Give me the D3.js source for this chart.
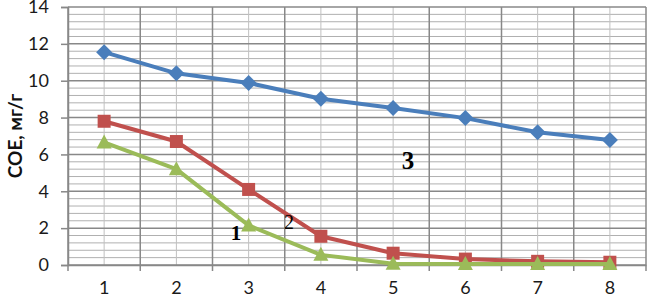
<!DOCTYPE html>
<html><head><meta charset="utf-8">
<script src="https://cdn.jsdelivr.net/npm/d3@7"></script>
<style>body{margin:0;background:#fff}svg{display:block}</style>
</head><body>
<script>
const categories = [1,2,3,4,5,6,7,8];
const series3 = [11.55, 10.4, 9.88, 9.02, 8.52, 7.97, 7.2, 6.78];
const series2 = [7.8, 6.7, 4.1, 1.56, 0.64, 0.32, 0.2, 0.15];
const series1 = [6.65, 5.2, 2.15, 0.55, 0.07, 0.05, 0.05, 0.05];
const yTicks = [0,2,4,6,8,10,12,14];

const W=647,H=299, L=68, R=646, T=7, B=265;
const svg=d3.select("body").append("svg").attr("width",W).attr("height",H);
const x=d3.scaleBand().domain(categories).range([L,R]);
const y=d3.scaleLinear().domain([0,14]).range([B,T]);
const cx=d=>x(d)+x.bandwidth()/2;

const minor=d3.range(0,14.01,0.4).filter(v=>Math.abs(v/2-Math.round(v/2))>0.01);
svg.append("g").selectAll("line").data(minor).join("line")
 .attr("x1",L).attr("x2",R).attr("y1",d=>y(d)).attr("y2",d=>y(d))
 .attr("stroke","#b0b0b0").attr("stroke-width",1);
svg.append("g").selectAll("line").data(categories).join("line")
 .attr("x1",cx).attr("x2",cx).attr("y1",T).attr("y2",B)
 .attr("stroke","#c0c0c0").attr("stroke-width",1);
svg.append("g").selectAll("line").data(yTicks).join("line")
 .attr("x1",L).attr("x2",R).attr("y1",d=>y(d)).attr("y2",d=>y(d))
 .attr("stroke","#888").attr("stroke-width",1.5);
const bounds=categories.map(c=>x(c)).concat([R]);
svg.append("g").selectAll("line").data(bounds).join("line")
 .attr("x1",d=>d).attr("x2",d=>d).attr("y1",T).attr("y2",B+6)
 .attr("stroke","#888").attr("stroke-width",1.5);

const tf="Lato, 'Open Sans', sans-serif";
const ya=svg.append("g").attr("transform",`translate(${L},0)`)
 .call(d3.axisLeft(y).tickValues(yTicks).tickSize(7).tickPadding(12));
ya.select(".domain").attr("stroke","#888").attr("stroke-width",1.5);
ya.selectAll(".tick line").attr("stroke","#888").attr("stroke-width",1.5);
ya.selectAll("text").attr("font-family",tf).attr("font-size",18).attr("fill","#1a1a1a");
const xa=svg.append("g").attr("transform",`translate(0,${B})`)
 .call(d3.axisBottom(x).tickSize(0).tickPadding(16));
xa.select(".domain").attr("stroke","#888").attr("stroke-width",1.5);
xa.selectAll("text").attr("font-family",tf).attr("font-size",18).attr("fill","#1a1a1a");

svg.append("text").attr("transform","translate(22,136) rotate(-90)")
 .attr("text-anchor","middle").attr("font-family",tf)
 .attr("font-weight","bold").attr("font-size",19).attr("fill","#111").text("COE, мг/г");

const shapes={
 diamond:"M0,-8L8,0L0,8L-8,0Z",
 square:"M-6.5,-6.5H6.5V6.5H-6.5Z",
 triangle:"M0,-8L7.5,6L-7.5,6Z"
};
const line=d3.line().x((d,i)=>cx(categories[i])).y(d=>y(d));
function drawSeries(vals,color,shape){
 svg.append("path").datum(vals).attr("d",line).attr("fill","none")
  .attr("stroke",color).attr("stroke-width",4).attr("stroke-linejoin","round");
 svg.append("g").selectAll("path").data(vals).join("path")
  .attr("transform",(d,i)=>`translate(${cx(categories[i])},${y(d)})`)
  .attr("d",shapes[shape]).attr("fill",color);
}
drawSeries(series3,"#4A7EBB","diamond");
drawSeries(series2,"#C0504D","square");
drawSeries(series1,"#9BBB59","triangle");

const serif="'Liberation Serif','DejaVu Serif',serif";
svg.append("text").attr("x",236).attr("y",240).attr("text-anchor","middle")
 .attr("font-family",serif).attr("font-weight","bold").attr("font-size",21).text("1");
svg.append("text").attr("x",289).attr("y",229).attr("text-anchor","middle")
 .attr("font-family",serif).attr("font-size",20).text("2");
svg.append("text").attr("x",408).attr("y",169).attr("text-anchor","middle")
 .attr("font-family",serif).attr("font-weight","bold").attr("font-size",25).text("3");
</script>
</body></html>
